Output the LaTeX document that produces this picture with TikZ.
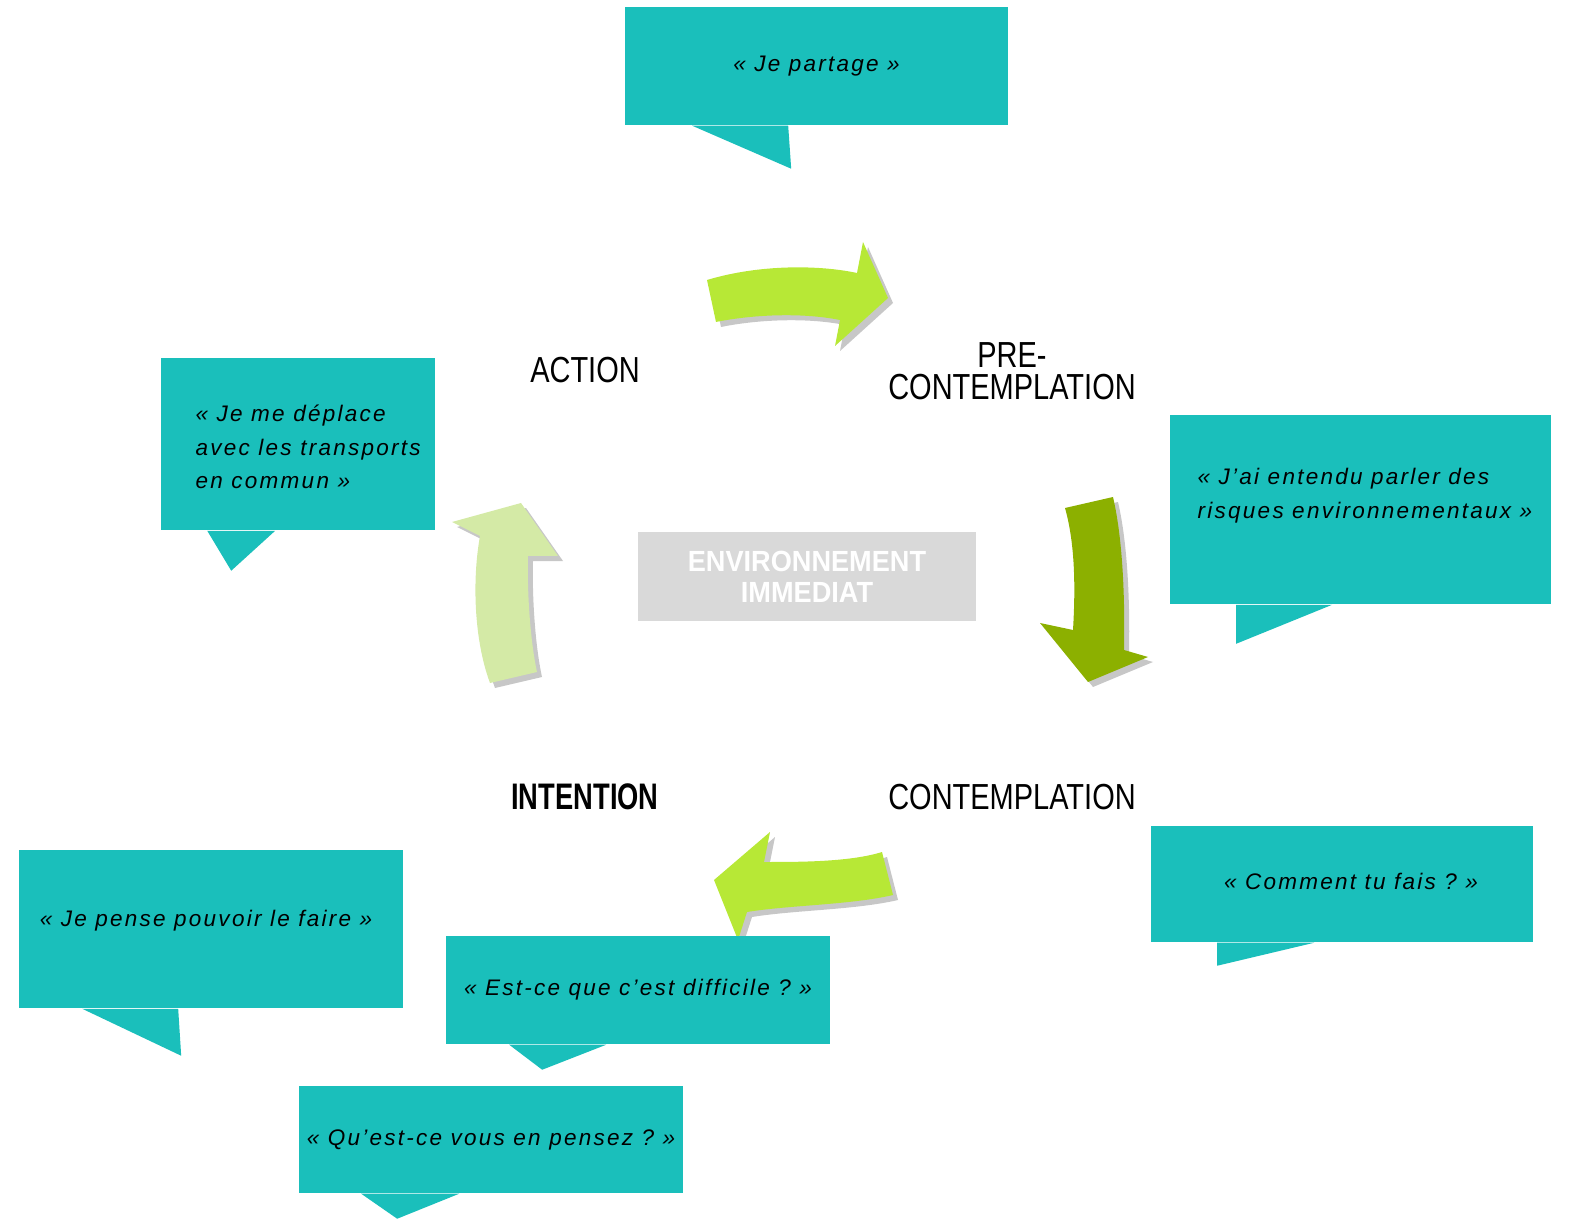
\documentclass[tikz,border=0pt]{standalone}
\usepackage{fontspec}
\setmainfont{Liberation Sans}
\newfontfamily\stagefont[FakeStretch=0.8, BoldFeatures={FakeStretch=0.74}]{Liberation Sans}
\newfontfamily\envfont[FakeStretch=0.93]{Liberation Sans}
\newfontfamily\quotefont[LetterSpace=10]{Liberation Sans}
\usetikzlibrary{calc}

\definecolor{bubbleteal}{HTML}{1ABFBB}
\definecolor{envgray}{HTML}{D9D9D9}
\definecolor{limegreen}{HTML}{B7E836}
\definecolor{olivegreen}{HTML}{8CB000}
\definecolor{palegreen}{HTML}{D4EAA6}

\tikzset{
  bubble/.style={fill=bubbleteal, inner sep=0pt, align=center,
    font=\quotefont\itshape\fontsize{6.4}{9.6}\selectfont},
  bubbletext/.style={inner sep=0pt, align=left,
    font=\quotefont\itshape\fontsize{6.4}{9.6}\selectfont},
  stage/.style={inner sep=0pt, align=center,
    font=\stagefont\fontsize{10.3}{9.2}\selectfont},
  cyclearrow/.style={preaction={fill=black!22,
    transform canvas={shift={(0.05cm,-0.05cm)}}}}
}

\begin{document}
\begin{tikzpicture}[x=0.01cm, y=-0.01cm]
    \useasboundingbox (0,0) rectangle (1576,1222);

    % centre
    \node[fill=envgray, minimum width=3.38cm, minimum height=0.89cm, inner sep=0pt,
      align=center, text=white, font=\envfont\bfseries\fontsize{8.3}{8.9}\selectfont]
      (env) at (807,576.5) {ENVIRONNEMENT\\IMMEDIAT};

    % stages
    \node[stage] (action) at (585,370) {ACTION};
    \node[stage] (precont) at (1012,371) {PRE-\\CONTEMPLATION};
    \node[stage] (cont) at (1012,797) {CONTEMPLATION};
    \node[stage, font=\stagefont\bfseries\fontsize{10.5}{9.2}\selectfont]
      (intention) at (585,797) {INTENTION};

    % arrows
    \fill[limegreen, cyclearrow] (707,280) .. controls (760,264) and (820,265) .. (857,273)
      -- (863,242) -- (888,298) -- (835,346) -- (840,320)
      .. controls (800,312) and (750,315) .. (716,322) -- cycle;
    \fill[olivegreen, cyclearrow] (1065,508) -- (1113,497)
      .. controls (1123,540) and (1125,600) .. (1124,650)
      -- (1148,657) -- (1088,682) -- (1040,623) -- (1073,630)
      .. controls (1076,580) and (1074,540) .. (1065,508) -- cycle;
    \fill[limegreen, cyclearrow] (882,852) -- (893,895)
      .. controls (850,905) and (790,905) .. (747,912)
      -- (738,940) -- (714,880) -- (770,832) -- (764,862)
      .. controls (800,862) and (850,862) .. (882,852) -- cycle;
    \fill[palegreen, cyclearrow] (490,683) -- (537,672)
      .. controls (530,640) and (527,590) .. (528,556)
      -- (558,556) -- (521,503) -- (452,522) -- (480,536)
      .. controls (472,580) and (474,640) .. (490,683) -- cycle;

    % speech bubbles
    \node[bubble, minimum width=3.83cm, minimum height=1.18cm] (b1) at (816.5,66)
      {«~Je partage~»};
    \fill[bubbleteal] ($(b1.south west)+(68,0)$) -- ($(b1.south west)+(167,43)$)
      -- ($(b1.south west)+(164,0)$) -- cycle;

    \node[bubble, minimum width=2.74cm, minimum height=1.72cm] (b2) at (298,444) {};
    \node[bubbletext, anchor=west] (b2text) at (195,447)
      {«~Je me déplace\\avec les transports\\en commun~»};
    \fill[bubbleteal] ($(b2.south west)+(47,0)$) -- ($(b2.south west)+(71,40)$)
      -- ($(b2.south west)+(115,0)$) -- cycle;

    \node[bubble, minimum width=3.81cm, minimum height=1.89cm] (b3) at (1360.5,509.5) {};
    \node[bubbletext, anchor=west] (b3text) at (1197,496)
      {«~J’ai entendu parler des\\risques environnementaux~»};
    \fill[bubbleteal] ($(b3.south west)+(67,0)$) -- ($(b3.south west)+(67,39)$)
      -- ($(b3.south west)+(163,0)$) -- cycle;

    \node[bubble, minimum width=3.82cm, minimum height=1.16cm] (b4) at (1342,884) {};
    \node[bubbletext] (b4text) at (1351,881) {«~Comment tu fais ?~»};
    \fill[bubbleteal] ($(b4.south west)+(67,0)$) -- ($(b4.south west)+(67,23)$)
      -- ($(b4.south west)+(164,0)$) -- cycle;

    \node[bubble, minimum width=3.84cm, minimum height=1.58cm] (b5) at (211,929) {};
    \node[bubbletext] (b5text) at (206,921) {«~Je pense pouvoir le faire~»};
    \fill[bubbleteal] ($(b5.south west)+(64,0)$) -- ($(b5.south west)+(163,47)$)
      -- ($(b5.south west)+(160,0)$) -- cycle;

    \node[bubble, minimum width=3.84cm, minimum height=1.08cm] (b6) at (638,990)
      {«~Est-ce que c’est difficile ?~»};
    \fill[bubbleteal] ($(b6.south west)+(64,0)$) -- ($(b6.south west)+(97,25)$)
      -- ($(b6.south west)+(161,0)$) -- cycle;

    \node[bubble, minimum width=3.84cm, minimum height=1.07cm] (b7) at (491,1139.5)
      {«~Qu’est-ce vous en pensez ?~»};
    \fill[bubbleteal] ($(b7.south west)+(63,0)$) -- ($(b7.south west)+(99,25)$)
      -- ($(b7.south west)+(161,0)$) -- cycle;
\end{tikzpicture}
\end{document}
